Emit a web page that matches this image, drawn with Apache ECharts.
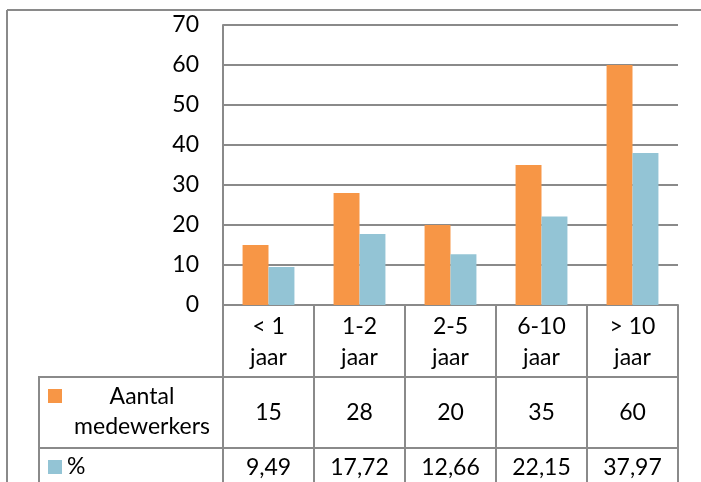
<!DOCTYPE html>
<html><head><meta charset="utf-8">
<script src="https://cdn.jsdelivr.net/npm/echarts@6/dist/echarts.min.js"></script>
<style>html,body{margin:0;padding:0;background:#fff}#c{width:701px;height:482px}</style>
</head><body><div id="c"></div>
<script>
const categories = ['< 1\njaar', '1-2\njaar', '2-5\njaar', '6-10\njaar', '> 10\njaar'];
const seriesNames = ['Aantal\nmedewerkers', '%'];
const aantal = [15, 28, 20, 35, 60];
const pct = [9.49, 17.72, 12.66, 22.15, 37.97];
const yTicks = [0, 10, 20, 30, 40, 50, 60, 70];

const ORANGE = '#F79646', BLUE = '#93C4D5', GRID = '#8a8a8a';
const FONT = 'Lato';
const FS = 23;
const fmt = v => String(v).replace('.', ',');

const chart = echarts.init(document.getElementById('c'));
const gL = 223, gR = 678, gT = 25, gB = 305;

function tableAxis(data, offset) {
  return {
    type: 'category', position: 'bottom', data: data, offset: offset,
    axisLine: {show: false}, axisTick: {show: false},
    axisLabel: {fontFamily: FONT, fontSize: FS, color: '#000', margin: 0, interval: 0}
  };
}

const option = {
  animation: false,
  grid: {left: gL, right: 701 - gR, top: gT, bottom: 482 - gB},
  xAxis: [
    {
      type: 'category', data: categories,
      axisLine: {lineStyle: {color: GRID, width: 2}},
      axisTick: {show: true, length: 200, lineStyle: {color: GRID, width: 2}},
      axisLabel: {fontFamily: FONT, fontSize: FS, color: '#000', lineHeight: 31, margin: 6, interval: 0}
    },
    tableAxis(aantal.map(String), 96),
    tableAxis(pct.map(fmt), 151)
  ],
  yAxis: {
    type: 'value', min: yTicks[0], max: yTicks[yTicks.length - 1], interval: 10,
    axisLine: {show: true, lineStyle: {color: GRID, width: 2}},
    axisTick: {show: false},
    splitLine: {lineStyle: {color: GRID, width: 2}},
    axisLabel: {fontFamily: FONT, fontSize: FS, color: '#000', margin: 24}
  },
  series: [
    {type: 'bar', name: seriesNames[0], data: aantal, itemStyle: {color: ORANGE}, barGap: '0%', barCategoryGap: '43%'},
    {type: 'bar', name: seriesNames[1], data: pct, itemStyle: {color: BLUE}, barGap: '0%', barCategoryGap: '43%'}
  ],
  graphic: [
    {type: 'line', shape: {x1: 7, y1: 10, x2: 701, y2: 10}, style: {stroke: GRID, lineWidth: 2}},
    {type: 'line', shape: {x1: 7, y1: 10, x2: 7, y2: 482}, style: {stroke: GRID, lineWidth: 2}},
    {type: 'line', shape: {x1: 38, y1: 377, x2: gR, y2: 377}, style: {stroke: GRID, lineWidth: 2}},
    {type: 'line', shape: {x1: 38, y1: 448, x2: gR, y2: 448}, style: {stroke: GRID, lineWidth: 2}},
    {type: 'line', shape: {x1: 39, y1: 376, x2: 39, y2: 482}, style: {stroke: GRID, lineWidth: 2}},
    {type: 'rect', shape: {x: 48, y: 389, width: 14, height: 14}, style: {fill: ORANGE}},
    {type: 'rect', shape: {x: 48, y: 460, width: 14, height: 14}, style: {fill: BLUE}},
    {type: 'text', x: 142, y: 412, style: {text: seriesNames[0], fontFamily: FONT, fontSize: FS, fill: '#000', align: 'center', verticalAlign: 'middle', lineHeight: 30}},
    {type: 'text', x: 67, y: 467, style: {text: seriesNames[1], fontFamily: FONT, fontSize: FS, fill: '#000', align: 'left', verticalAlign: 'middle'}}
  ]
};
chart.setOption(option);
</script>
</body></html>
